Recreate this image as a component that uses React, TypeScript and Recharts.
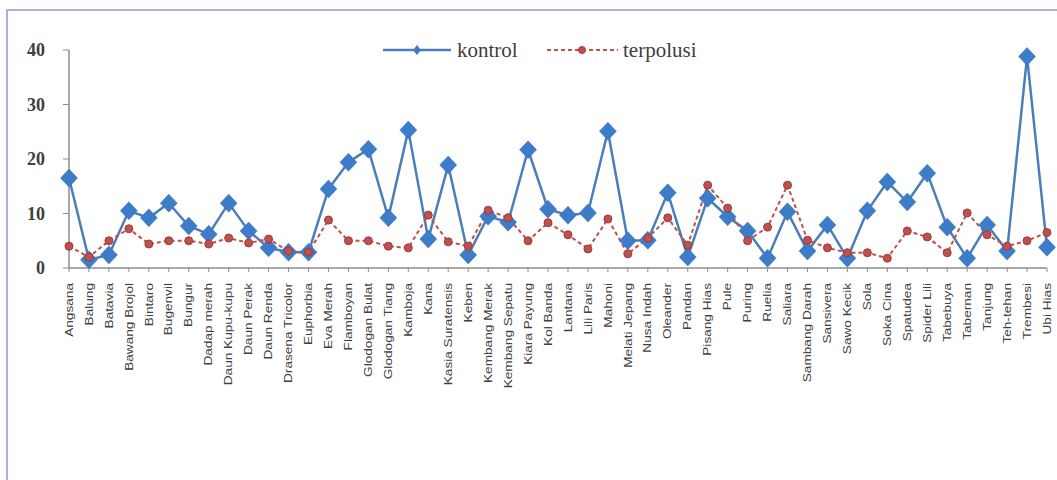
import React from "react";
import { LineChart, Line, XAxis, YAxis, Legend } from "recharts";

const categories = [
  "Angsana", "Balung", "Batavia", "Bawang Brojol", "Bintaro", "Bugenvil", "Bungur",
  "Dadap merah", "Daun Kupu-kupu", "Daun Perak", "Daun Renda", "Drasena Tricolor",
  "Euphorbia", "Eva Merah", "Flamboyan", "Glodogan Bulat", "Glodogan Tiang", "Kamboja",
  "Kana", "Kasia Suratensis", "Keben", "Kembang Merak", "Kembang Sepatu", "Kiara Payung",
  "Kol Banda", "Lantana", "Lili Paris", "Mahoni", "Melati Jepang", "Nusa Indah",
  "Oleander", "Pandan", "Pisang Hias", "Pule", "Puring", "Ruelia", "Saliara",
  "Sambang Darah", "Sansivera", "Sawo Kecik", "Sola", "Soka Cina", "Spatudea",
  "Spider Lili", "Tabebuya", "Tabernan", "Tanjung", "Teh-tehan", "Trembesi", "Ubi Hias",
];

const kontrol = [
  16.5, 1.5, 2.4, 10.5, 9.2, 11.9, 7.7, 6.2, 11.9, 6.8,
  3.7, 2.9, 2.9, 14.5, 19.4, 21.8, 9.2, 25.3, 5.3, 18.9,
  2.4, 9.5, 8.4, 21.7, 10.8, 9.7, 10.1, 25.1, 5.0, 5.1,
  13.8, 2.0, 12.8, 9.4, 6.8, 1.8, 10.3, 3.1, 7.9, 1.8,
  10.5, 15.8, 12.1, 17.4, 7.5, 1.8, 7.9, 3.1, 38.8, 3.8,
];

const terpolusi = [
  4.0, 2.0, 5.0, 7.2, 4.4, 5.0, 5.0, 4.4, 5.5, 4.6,
  5.3, 3.1, 2.9, 8.8, 5.0, 5.0, 4.0, 3.7, 9.7, 4.8,
  4.0, 10.6, 9.2, 5.0, 8.3, 6.1, 3.5, 9.0, 2.6, 5.5,
  9.2, 4.2, 15.2, 11.0, 5.0, 7.5, 15.2, 5.1, 3.7, 2.8,
  2.8, 1.8, 6.8, 5.7, 2.8, 10.1, 6.1, 4.0, 5.0, 6.5,
];

const yTicks = [0, 10, 20, 30, 40];

const data = categories.map((name, i) => ({
  name,
  kontrol: kontrol[i],
  terpolusi: terpolusi[i],
}));

const BLUE_LINE = "#4a7ebb";
const BLUE_MARK = "#3d7cc9";
const RED = "#c0504d";
const SERIF = "'Times New Roman', 'Liberation Serif', 'DejaVu Serif', serif";

const XTick = (props: any) => {
  const { x, y, payload } = props;
  return (
    <g transform={`translate(${x},${y})`}>
      <text
        transform="rotate(-90) scale(1.3,1)"
        textAnchor="end"
        dy="0.35em"
        fontSize={10.5}
        fill="#404040"
        fontFamily="'Liberation Sans', Arial, sans-serif"
      >
        {payload.value}
      </text>
    </g>
  );
};

const Diamond = (props: any) => {
  const { cx, cy, index } = props;
  if (cx == null || cy == null) return <g key={`k-${index}`} />;
  return (
    <path
      key={`k-${index}`}
      d={`M${cx},${cy - 9} L${cx + 8.5},${cy} L${cx},${cy + 9} L${cx - 8.5},${cy} Z`}
      fill={BLUE_MARK}
      stroke="#3670b8"
      strokeWidth={0.5}
    />
  );
};

const RedDot = (props: any) => {
  const { cx, cy, index } = props;
  if (cx == null || cy == null) return <g key={`t-${index}`} />;
  return (
    <circle
      key={`t-${index}`}
      cx={cx}
      cy={cy}
      r={4}
      fill={RED}
      stroke="#9e3a37"
      strokeWidth={1}
    />
  );
};

const LegendContent = () => (
  <svg width={1057} height={30} style={{ display: "block" }}>
    <line x1={383} y1={15} x2={451} y2={15} stroke={BLUE_LINE} strokeWidth={2.5} />
    <path d="M417,10 L421,15 L417,20 L413,15 Z" fill={BLUE_MARK} />
    <text x={457} y={22} style={{ fontFamily: SERIF, fontSize: 21 }} fill="#404040">
      kontrol
    </text>
    <line x1={547} y1={15} x2={618} y2={15} stroke={RED} strokeWidth={2} strokeDasharray="4 3" />
    <circle cx={582} cy={15} r={3.5} fill={RED} stroke="#9e3a37" strokeWidth={1} />
    <text x={623} y={22} style={{ fontFamily: SERIF, fontSize: 21 }} fill="#404040">
      terpolusi
    </text>
  </svg>
);

export default function App() {
  return (
    <div style={{ position: "absolute", left: 0, top: 0, width: 1057, height: 480, background: "#ffffff" }}>
      <div
        style={{
          position: "absolute",
          left: 6,
          top: 9,
          width: 1051,
          height: 471,
          borderTop: "2px solid #a7b4d8",
          borderLeft: "2px solid #a7b4d8",
          boxSizing: "border-box",
        }}
      />
      <div style={{ position: "absolute", left: 0, top: 0 }}>
        <LineChart
          width={1057}
          height={480}
          data={data}
          margin={{ top: 50, right: 10, left: 0, bottom: 0 }}
        >
          <XAxis
            dataKey="name"
            type="category"
            scale="point"
            padding={{ left: 0, right: 0 }}
            interval={0}
            height={212}
            tickSize={4}
            tickMargin={11}
            tick={<XTick />}
            axisLine={{ stroke: "#8c8c8c", strokeWidth: 1.5 }}
            tickLine={{ stroke: "#8c8c8c" }}
          />
          <YAxis
            width={69}
            domain={[0, 40]}
            ticks={yTicks}
            interval={0}
            tickSize={6}
            tickMargin={18}
            axisLine={{ stroke: "#8c8c8c", strokeWidth: 1.5 }}
            tickLine={{ stroke: "#8c8c8c" }}
            tick={{
              fontSize: 18,
              fontWeight: "bold",
              fill: "#404040",
              fontFamily: SERIF,
            }}
          />
          <Legend
            layout="horizontal"
            verticalAlign="middle"
            align="center"
            content={<LegendContent />}
            wrapperStyle={{ top: 35, left: 0, width: 1057, height: 30 }}
          />
          <Line
            type="linear"
            dataKey="kontrol"
            stroke={BLUE_LINE}
            strokeWidth={2.5}
            dot={<Diamond />}
            activeDot={false}
            isAnimationActive={false}
          />
          <Line
            type="linear"
            dataKey="terpolusi"
            stroke={RED}
            strokeWidth={2}
            strokeDasharray="4 3"
            dot={<RedDot />}
            activeDot={false}
            isAnimationActive={false}
          />
        </LineChart>
      </div>
    </div>
  );
}
